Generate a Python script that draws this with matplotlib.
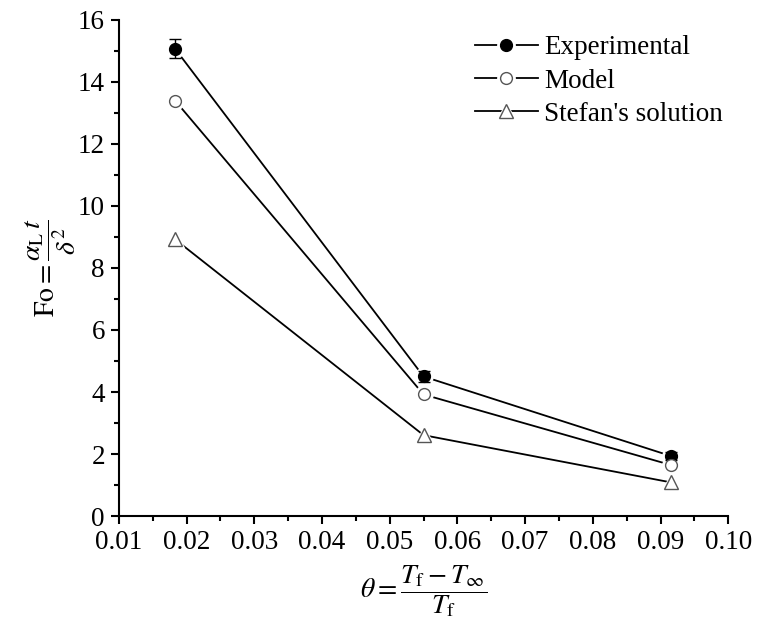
import numpy as np
import matplotlib
matplotlib.use("Agg")
import matplotlib.pyplot as plt
from matplotlib.legend_handler import HandlerTuple
from matplotlib.ticker import MultipleLocator

plt.rcParams["font.family"] = "Liberation Serif"
plt.rcParams["mathtext.fontset"] = "stix"

theta = np.array([0.0183, 0.055, 0.0915])
fo_exp = np.array([15.06, 4.50, 1.94])
fo_exp_err = np.array([0.31, 0.18, 0.12])
fo_model = np.array([13.39, 3.92, 1.65])
fo_stefan = np.array([8.92, 2.61, 1.09])
xticks = [0.01, 0.02, 0.03, 0.04, 0.05, 0.06, 0.07, 0.08, 0.09, 0.10]

fig = plt.figure(figsize=(7.57, 6.31), dpi=100)
ax = fig.add_axes([0.157, 0.182, 0.805, 0.787])

series = [
    (fo_exp, "o", "black", "black", 8.5, "Experimental"),
    (fo_model, "o", "white", "#555555", 8.5, "Model"),
    (fo_stefan, "^", "white", "#555555", 9.5, "Stefan's solution"),
]

handles = []
for y, m, fc, ec, ms, lab in series:
    # white halo under each marker leaves a small gap between line and marker
    ln, = ax.plot(theta, y, "-", color="black", lw=1.3, marker=m, ms=ms + 4,
                  mfc="white", mec="white", zorder=2)
    mk, = ax.plot(theta, y, ls="none", marker=m, ms=ms, mfc=fc, mec=ec,
                  mew=1.0, zorder=4)
    handles.append(((ln, mk), lab))

ax.errorbar(theta, fo_exp, yerr=fo_exp_err, fmt="none", ecolor="black",
            elinewidth=1.0, capsize=4, capthick=1.0, zorder=3)

ax.set_xlim(0.01, 0.10)
ax.set_ylim(0, 16)
ax.set_xticks(xticks)
ax.set_xticklabels(["%.2f" % v for v in xticks])
ax.xaxis.set_minor_locator(MultipleLocator(0.005))
ax.yaxis.set_major_locator(MultipleLocator(2))
ax.yaxis.set_minor_locator(MultipleLocator(1))

for s in ["top", "right"]:
    ax.spines[s].set_visible(False)
for s in ["left", "bottom"]:
    ax.spines[s].set_linewidth(1.5)
ax.tick_params(which="major", direction="out", length=6, width=1.5,
               labelsize=19.5, pad=4)
ax.tick_params(which="minor", direction="out", length=3.5, width=1.5)

ax.set_ylabel(r"$\mathrm{Fo}=\dfrac{\alpha_{\mathrm{L}}\,t}{\delta^{2}}$",
              fontsize=20, labelpad=0)
ax.set_xlabel(r"$\theta=\dfrac{T_{\mathrm{f}}-T_{\infty}}{T_{\mathrm{f}}}$",
              fontsize=20, labelpad=6)

ax.legend([h for h, _ in handles], [l for _, l in handles],
          handler_map={tuple: HandlerTuple(ndivide=1)},
          loc="upper left", bbox_to_anchor=(0.585, 0.968), frameon=False,
          borderaxespad=0, borderpad=0,
          fontsize=19.5, handlelength=2.3, handletextpad=0.25,
          labelspacing=0.3, numpoints=1)

fig.savefig("out.png", dpi=100)
